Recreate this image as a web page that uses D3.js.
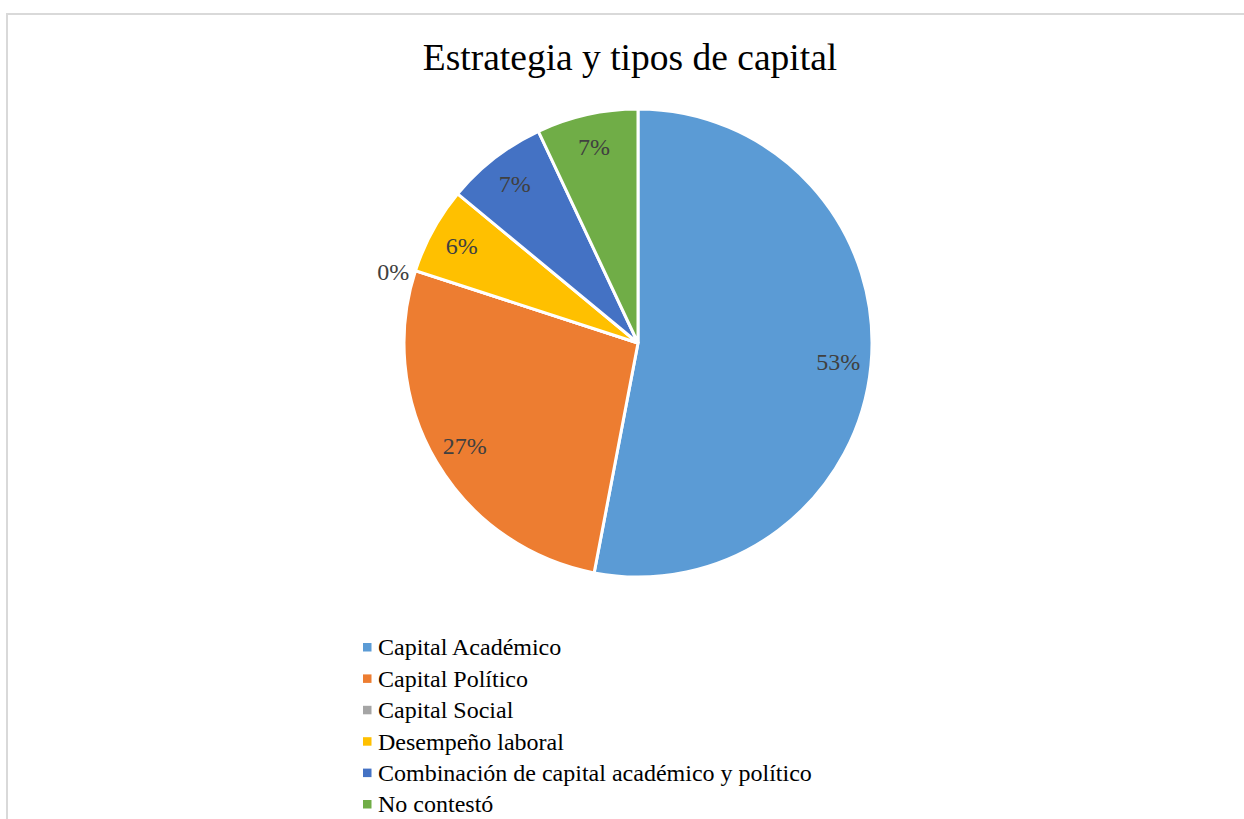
<!DOCTYPE html>
<html>
<head>
<meta charset="utf-8">
<script src="https://cdn.jsdelivr.net/npm/d3@7"></script>
<style>
    body { margin: 0; background: #fff; }
    text { font-family: "Liberation Serif", "Times New Roman", serif; }
</style>
</head>
<body>
<div id="chart"></div>
<script>
// data
const categories = ["Capital Académico", "Capital Político", "Capital Social",
    "Desempeño laboral", "Combinación de capital académico y político", "No contestó"];
const values = [53, 27, 0, 6, 7, 7];
const colors = ["#5B9BD5", "#ED7D31", "#A5A5A5", "#FFC000", "#4472C4", "#70AD47"];
const chartTitle = "Estrategia y tipos de capital";

let width = 1244,
    height = 819,
    cx = 638, cy = 343,
    radius = 234;

let svg = d3.select("#chart")
    .append("svg")
    .attr("width", width)
    .attr("height", height);

// chart area border (runs off the right and bottom edges)
svg.append("rect")
    .attr("x", 7)
    .attr("y", 14)
    .attr("width", width)
    .attr("height", height)
    .attr("fill", "none")
    .attr("stroke", "#d9d9d9")
    .attr("stroke-width", 2);

svg.append("text")
    .attr("x", 630)
    .attr("y", 70)
    .attr("text-anchor", "middle")
    .style("font-size", "37.5px")
    .attr("fill", "#000")
    .text(chartTitle);

let data = categories.map((c, i) => ({ name: c, value: values[i], color: colors[i] }));

let pie = d3.pie()
    .sort(null)
    .value(d => d.value);

let arc = d3.arc()
    .innerRadius(0)
    .outerRadius(radius);

// labels sit at about 0.86 of the radius, zero slices go outside
let labelArc = d3.arc()
    .innerRadius(radius * 0.86)
    .outerRadius(radius * 0.86);

let outsideArc = d3.arc()
    .innerRadius(radius * 1.1)
    .outerRadius(radius * 1.1);

let g = svg.append("g")
    .attr("transform", "translate(" + cx + "," + cy + ")");

let arcs = pie(data);

g.selectAll("path.slice")
    .data(arcs)
    .enter()
    .append("path")
    .attr("class", "slice")
    .attr("d", arc)
    .attr("fill", d => d.data.color)
    .attr("stroke", "white")
    .style("stroke-width", "3px");

g.selectAll("text.label")
    .data(arcs)
    .enter()
    .append("text")
    .attr("class", "label")
    .attr("transform", function(d) {
        let pos = d.data.value === 0 ? outsideArc.centroid(d) : labelArc.centroid(d);
        if (d.data.value === 0) { pos[1] += 8; }
        return "translate(" + pos + ")";
    })
    .attr("text-anchor", "middle")
    .attr("dy", "0.35em")
    .style("font-size", "24px")
    .attr("fill", "#404040")
    .text(d => d3.format(".0%")(d.data.value / 100));

// legend
let legend = svg.append("g")
    .attr("transform", "translate(363,647)");

let rows = legend.selectAll("g")
    .data(data)
    .enter()
    .append("g")
    .attr("transform", (d, i) => "translate(0," + i * 31.4 + ")");

rows.append("rect")
    .attr("x", 0)
    .attr("y", -4)
    .attr("width", 8.5)
    .attr("height", 8.5)
    .attr("fill", d => d.color);

rows.append("text")
    .attr("x", 15)
    .attr("dy", "0.35em")
    .style("font-size", "24px")
    .attr("fill", "#000")
    .text(d => d.name);
</script>
</body>
</html>
